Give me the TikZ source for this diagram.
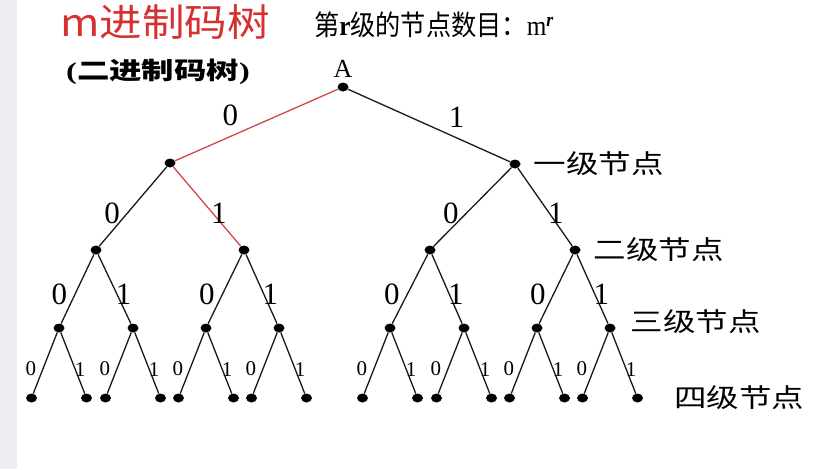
\documentclass[tikz,border=0pt]{standalone}
\usepackage{fontspec}
\setmainfont{Liberation Serif}
\newfontfamily\cjk{Noto Sans CJK SC}
\usetikzlibrary{positioning,shapes.geometric}

\definecolor{titlered}{RGB}{214,48,48}
\definecolor{pathred}{RGB}{208,72,72}
\definecolor{sidebar}{RGB}{237,237,241}
\newcommand{\wide}[2][1.25]{\scalebox{#1}[1]{#2}}
\newcommand{\fsz}[1]{\fontsize{#1}{#1}\selectfont}

\begin{document}
\begin{tikzpicture}[
        x=1pt, y=-1pt,
        dot/.style={ellipse, fill=black, inner sep=0, minimum width=11pt, minimum height=9pt},
        edge/.style={line width=1.3pt, draw=black!90},
        hot/.style={line width=1.3pt, draw=pathred},
        big/.style={font=\fsz{31}, inner sep=0},
        small/.style={font=\fsz{21}, inner sep=0},
        top0/.style={big, pos=.66, above=10pt},
        top1/.style={big, pos=.67, above=10pt},
        b0/.style={big, pos=.58, left=7pt},
        b1/.style={big, pos=.58, right=-2pt},
        s0/.style={small, pos=.6, left=6pt},
        s1/.style={small, pos=.6, right=-1pt},
        level/.style={font=\cjk\fsz{26}, inner sep=0},
    ]
    \useasboundingbox (0,0) rectangle (814,469);
    \fill[sidebar] (0,0) rectangle (17,469);

    % titles
    \node[font=\cjk\fsz{38}, text=titlered, inner sep=0] (title) at (165,22) {\wide[1.12]{m进制码树}};
    \node[inner sep=0] (count) at (434,25) {\fsz{28}\wide[0.9]{{\cjk 第}\textbf{r}{\cjk 级的节点数目：}m\textsuperscript{\textbf{\textit{r}}}}};
    \node[inner sep=0] (binary) at (158,72) {\fsz{24}\bfseries\wide[1.35]{({\cjk 二进制码树})}};

    % tree nodes
    \node[dot] (root) at (343,87) {};
    \node[font=\fsz{26}, inner sep=0, above=5pt of root] (rootname) {A};
    \node[dot] (l) at (170,163) {};
    \node[dot] (r) at (515,164) {};
    \node[dot] (ll) at (96,250) {};
    \node[dot] (lr) at (244,250) {};
    \node[dot] (rl) at (430,250) {};
    \node[dot] (rr) at (575,250) {};
    \node[dot] (lll) at (59,328) {};
    \node[dot] (llr) at (133,328) {};
    \node[dot] (lrl) at (206,328) {};
    \node[dot] (lrr) at (279,328) {};
    \node[dot] (rll) at (390,328) {};
    \node[dot] (rlr) at (464,328) {};
    \node[dot] (rrl) at (537,328) {};
    \node[dot] (rrr) at (610,328) {};

    % branches
    \draw[hot] (root) -- node[top0] {0} (l);
    \draw[edge] (root) -- node[top1] {1} (r);
    \draw[edge] (l) -- node[b0] {0} (ll);
    \draw[hot] (l) -- node[b1] {1} (lr);
    \draw[edge] (r) -- node[b0] {0} (rl);
    \draw[edge] (r) -- node[b1] {1} (rr);
    \foreach \p in {ll,lr,rl,rr}{
        \draw[edge] (\p) -- node[b0] {0} (\p l);
        \draw[edge] (\p) -- node[b1] {1} (\p r);
    }
    \foreach \p in {lll,llr,lrl,lrr,rll,rlr,rrl,rrr}{
        \path (\p) ++(-27.5,70) node[dot] (\p0) {};
        \path (\p) ++(27.5,70) node[dot] (\p1) {};
        \draw[edge] (\p) -- node[s0] {0} (\p0);
        \draw[edge] (\p) -- node[s1] {1} (\p1);
    }

    % level names
    \node[level, right=13pt of r] (lv1) {\wide{一级节点}};
    \node[level, right=13pt of rr] (lv2) {\wide{二级节点}};
    \node[level, right=15pt of rrr, yshift=6pt] (lv3) {\wide{三级节点}};
    \node[level, right=31pt of rrr1] (lv4) {\wide{四级节点}};
\end{tikzpicture}
\end{document}
